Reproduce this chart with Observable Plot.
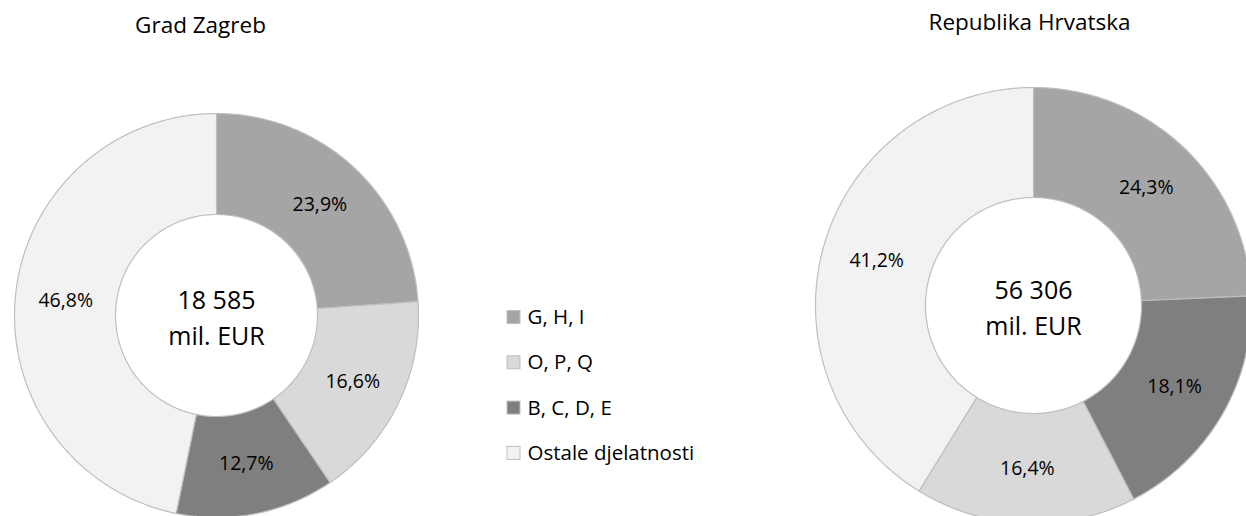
<!DOCTYPE html>
<html><head><meta charset="utf-8">
<script src="https://cdn.jsdelivr.net/npm/d3@7"></script>
<script src="https://cdn.jsdelivr.net/npm/@observablehq/plot@0.6"></script>
<style>html,body{margin:0;padding:0;background:#fff;} svg{display:block}</style>
</head><body><div id="chart"></div>
<script>
// ---- data ----
const categories = ["G, H, I", "O, P, Q", "B, C, D, E", "Ostale djelatnosti"];
const categoryColors = ["#a5a5a5", "#d9d9d9", "#7f7f7f", "#f2f2f2"];
const regions = ["Grad Zagreb", "Republika Hrvatska"];
const totals = ["18 585", "56 306"];
const unitLabel = "mil. EUR";
const zagrebCategories = ["G, H, I", "O, P, Q", "B, C, D, E", "Ostale djelatnosti"];
const zagrebValues = [23.9, 16.6, 12.7, 46.8];
const hrvatskaCategories = ["G, H, I", "B, C, D, E", "O, P, Q", "Ostale djelatnosti"];
const hrvatskaValues = [24.3, 18.1, 16.4, 41.2];

// ---- layout ----
const W = 1246, H = 516;
const FONT = "Open Sans, sans-serif";
const layout = [
  {cx: 216, cy: 315, r: 202, ir: 101, tx: 200, ty: 25},
  {cx: 1033, cy: 305, r: 218, ir: 108, tx: 1029, ty: 22}
];
const series = [
  {cats: zagrebCategories, vals: zagrebValues},
  {cats: hrvatskaCategories, vals: hrvatskaValues}
];

const fmt = v => v.toFixed(1).replace(".", ",") + "%";

const slicePts = [], labels = [], centers = [], titles = [];
series.forEach((s, i) => {
  const L = layout[i];
  const rows = s.cats.map((c, j) => ({cat: c, value: s.vals[j]}));
  const arcs = d3.pie().sort(null).value(d => d.value)(rows);
  arcs.forEach((a, j) => {
    const id = i + "-" + j;
    const n = Math.max(8, Math.ceil((a.endAngle - a.startAngle) / 0.01));
    const pts = [];
    for (let k = 0; k <= n; k++) {
      const t = a.startAngle + (a.endAngle - a.startAngle) * k / n;
      pts.push([L.cx + L.r * Math.sin(t), L.cy - L.r * Math.cos(t)]);
    }
    for (let k = n; k >= 0; k--) {
      const t = a.startAngle + (a.endAngle - a.startAngle) * k / n;
      pts.push([L.cx + L.ir * Math.sin(t), L.cy - L.ir * Math.cos(t)]);
    }
    pts.push(pts[0]);
    pts.forEach(p => slicePts.push({id, cat: a.data.cat, x: p[0], y: p[1]}));
    const m = (a.startAngle + a.endAngle) / 2, rm = (L.r + L.ir) / 2;
    labels.push({x: L.cx + rm * Math.sin(m), y: L.cy - rm * Math.cos(m), text: fmt(a.data.value)});
  });
  centers.push({x: L.cx, y: L.cy, text: totals[i] + "\n" + unitLabel});
  titles.push({x: L.tx, y: L.ty, text: regions[i]});
});

const legendRows = categories.map((c, i) => ({cat: c, x: 507, y: 317 + i * 45.3}));

const chart = Plot.plot({
  width: W, height: H,
  margin: 0,
  style: {fontFamily: FONT, background: "#fff"},
  x: {domain: [0, W], range: [0, W], axis: null},
  y: {domain: [0, H], range: [0, H], axis: null},
  color: {domain: categories, range: categoryColors},
  marks: [
    Plot.line(slicePts, {x: "x", y: "y", z: "id", fill: "cat", stroke: "#bfbfbf", strokeWidth: 1.2, curve: "linear"}),
    Plot.text(labels, {x: "x", y: "y", text: "text", fontSize: 19.5, fill: "#000", fontFamily: FONT}),
    Plot.text(centers, {x: "x", y: "y", text: "text", fontSize: 25, lineHeight: 1.45, fill: "#000", fontFamily: FONT}),
    Plot.text(titles, {x: "x", y: "y", text: "text", fontSize: 22.5, fill: "#000", fontFamily: FONT}),
    Plot.rect(legendRows, {x1: d => d.x, x2: d => d.x + 13, y1: d => d.y - 6.5, y2: d => d.y + 6.5, fill: "cat", stroke: "#bfbfbf", strokeWidth: 1}),
    Plot.text(legendRows, {x: d => d.x + 20, y: "y", text: "cat", textAnchor: "start", fontSize: 20.5, fill: "#000", fontFamily: FONT})
  ]
});
document.getElementById("chart").appendChild(chart);
</script>
</body></html>
